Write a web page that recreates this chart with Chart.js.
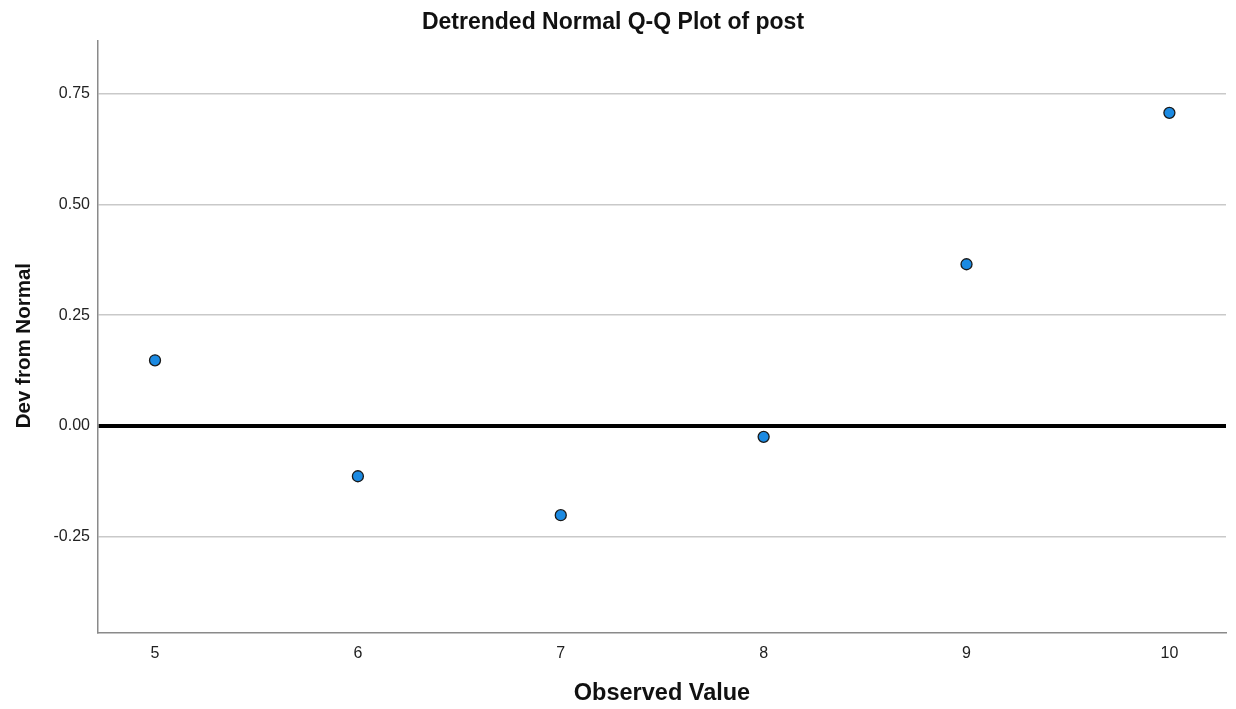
<!DOCTYPE html>
<html>
<head>
<meta charset="utf-8">
<script src="https://cdn.jsdelivr.net/npm/chart.js@4.4.1/dist/chart.umd.min.js"></script>
<style>
  html, body { margin: 0; padding: 0; background: #ffffff; }
  #wrap { width: 1236px; height: 709px; }
</style>
</head>
<body>
<div id="wrap"><canvas id="c" width="1236" height="709"></canvas></div>
<script>
// ---- data ----
const observedValues = [5, 6, 7, 8, 9, 10];
const devFromNormal = [0.148, -0.114, -0.202, -0.025, 0.365, 0.707];
const xTickValues = [5, 6, 7, 8, 9, 10];
const yTickValues = [-0.25, 0.00, 0.25, 0.50, 0.75];
const xRange = [4.719, 10.279];
const yRange = [-0.467, 0.870];
const chartTitle = 'Detrended Normal Q-Q Plot of post';
const xTitle = 'Observed Value';
const yTitle = 'Dev from Normal';

const FONT = '"Liberation Sans", Arial, sans-serif';

const points = observedValues.map((x, i) => ({ x: x, y: devFromNormal[i] }));

// y-axis title drawn beside the y scale (slightly below the plot centre, as in the reference)
const yTitlePlugin = {
  id: 'yTitlePlugin',
  afterDraw(chart) {
    const ctx = chart.ctx;
    const area = chart.chartArea;
    ctx.save();
    ctx.translate(24, (area.top + area.bottom) / 2 + 9);
    ctx.rotate(-Math.PI / 2);
    ctx.font = 'bold 20.5px ' + FONT;
    ctx.fillStyle = '#111111';
    ctx.textAlign = 'center';
    ctx.textBaseline = 'middle';
    ctx.fillText(yTitle, 0, 0);
    ctx.restore();
  }
};

new Chart(document.getElementById('c'), {
  type: 'scatter',
  data: {
    datasets: [{
      data: points,
      backgroundColor: '#1b8ae2',
      borderColor: '#1a1a1a',
      borderWidth: 1.3,
      pointRadius: 5.5,
      pointHoverRadius: 5.5
    }]
  },
  plugins: [yTitlePlugin],
  options: {
    responsive: false,
    animation: false,
    devicePixelRatio: 1,
    layout: { padding: { left: 0, right: 10, top: 0, bottom: 0 } },
    plugins: {
      legend: { display: false },
      tooltip: { enabled: false },
      title: {
        display: true,
        text: chartTitle,
        color: '#111111',
        font: { family: FONT, size: 23, weight: 'bold', lineHeight: 1.2 },
        padding: { top: 8.5, bottom: 4.6 }
      }
    },
    scales: {
      x: {
        type: 'linear',
        min: xRange[0],
        max: xRange[1],
        afterBuildTicks: (s) => { s.ticks = xTickValues.map(v => ({ value: v })); },
        afterFit: (s) => { s.height = 76.5; },
        grid: { display: false, drawTicks: false },
        border: { display: true, color: '#8a8a8a', width: 1.5 },
        ticks: {
          padding: 11,
          color: '#222222',
          font: { family: FONT, size: 16 },
          maxRotation: 0,
          callback: (v) => String(v)
        },
        title: {
          display: true,
          text: xTitle,
          color: '#111111',
          font: { family: FONT, size: 23.5, weight: 'bold', lineHeight: 1.2 },
          padding: { top: 0, bottom: 1 }
        }
      },
      y: {
        type: 'linear',
        min: yRange[0],
        max: yRange[1],
        afterBuildTicks: (s) => { s.ticks = yTickValues.map(v => ({ value: v })); },
        afterFit: (s) => { s.width = 98; },
        grid: {
          drawTicks: false,
          color: (ctx) => (ctx.tick && Math.abs(ctx.tick.value) < 1e-9) ? '#000000' : '#c9c9c9',
          lineWidth: (ctx) => (ctx.tick && Math.abs(ctx.tick.value) < 1e-9) ? 4 : 1.5
        },
        border: { display: true, color: '#8a8a8a', width: 1.5 },
        ticks: {
          padding: 8,
          color: '#222222',
          font: { family: FONT, size: 16 },
          callback: (v) => Number(v).toFixed(2)
        },
        title: { display: false }
      }
    }
  }
});
</script>
</body>
</html>
